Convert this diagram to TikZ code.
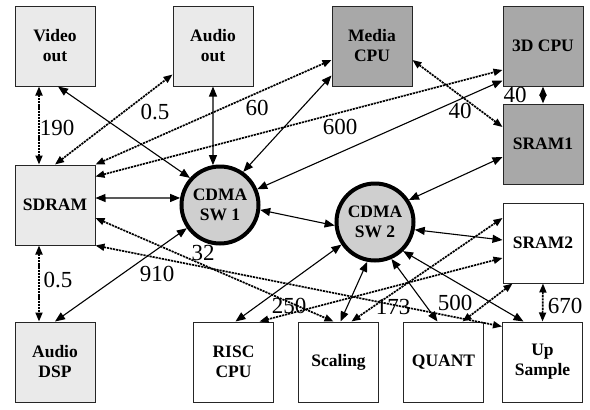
\documentclass[tikz,border=0pt]{standalone}
\usepackage{fontspec}
\setmainfont{Liberation Serif}
\usetikzlibrary{arrows.meta}
\definecolor{litegray}{RGB}{234,234,234}
\definecolor{darkgray2}{RGB}{168,168,168}
\definecolor{swgray}{RGB}{207,207,207}
\begin{document}
\begin{tikzpicture}[x=1pt,y=-1pt,
  box/.style={draw=black!85, line width=1pt, minimum width=80pt, minimum height=80pt,
    inner sep=0pt, align=center, font=\fontsize{17.5}{20}\selectfont\bfseries},
  litebox/.style={box, fill=litegray},
  darkbox/.style={box, fill=darkgray2},
  whitebox/.style={box, fill=white},
  swnode/.style={circle, draw=black, line width=4pt, fill=swgray, minimum size=77pt,
    inner sep=0pt, align=center, font=\fontsize{17.5}{20}\selectfont\bfseries},
  link/.style={line width=1.1pt, {Triangle[length=10pt,width=8pt]}-{Triangle[length=10pt,width=8pt]}},
  dlink/.style={line width=1.7pt, dash pattern=on 2.2pt off 0.9pt,
    {Triangle[length=9pt,width=7pt]}-{Triangle[length=9pt,width=7pt]}},
  lbl/.style={font=\fontsize{23}{23}\selectfont, inner sep=0pt}]
\useasboundingbox (0,0) rectangle (590,410);

% nodes
\node[litebox] (vout) at (55,46) {Video\\out};
\node[litebox] (aout) at (213,46) {Audio\\out};
\node[darkbox] (media) at (372,46) {Media\\CPU};
\node[darkbox] (cpu3d) at (543,46) {3D CPU};
\node[darkbox] (sram1) at (543,144) {SRAM1};
\node[litebox] (sdram) at (55,205) {SDRAM};
\node[litebox] (adsp) at (55,362) {Audio\\DSP};
\node[whitebox] (risc) at (233.5,362) {RISC\\CPU};
\node[whitebox] (scal) at (338.5,362) {Scaling};
\node[whitebox] (quant) at (443.5,362) {QUANT};
\node[whitebox] (ups) at (542.5,362) {Up\\Sample};
\node[whitebox] (sram2) at (543,243) {SRAM2};
\node[swnode] (sw1) at (220,205) {CDMA\\SW 1};
\node[swnode] (sw2) at (375,222) {CDMA\\SW 2};

% dashed connectors
\draw[dlink] ([xshift=-16pt]vout.south) -- ([xshift=-16pt]sdram.north);
\draw[dlink] ([xshift=-16pt]sdram.south) -- ([xshift=-16pt]adsp.north);
\draw[dlink] (sdram.north) -- ([yshift=12pt]aout.south west);
\draw[dlink] (sdram.north east) -- ([yshift=-14pt]media.west);
\draw[dlink] ([yshift=-12pt]sdram.north east) -- ([yshift=-24pt]cpu3d.west);
\draw[dlink] ([yshift=-14pt]media.east) -- ([yshift=17pt]sram1.west);
\draw[dlink] (cpu3d.south) -- (sram1.north);
\draw[dlink] ([yshift=-13pt]sdram.east) -- ([xshift=-5pt]scal.north);
\draw[dlink] (sdram.south east) -- ([yshift=-5pt]ups.north west);
\draw[dlink] ([yshift=25pt]sram2.west) -- ([xshift=13pt]scal.north);
\draw[dlink] ([yshift=-15pt]sram2.west) -- ([xshift=26pt]risc.north);
\draw[dlink] ([xshift=10pt]sram2.south west) -- ([xshift=19pt]quant.north);
\draw[dlink] (sram2.south) -- (ups.north);

% solid connectors
\draw[link] ([xshift=3pt]vout.south) -- (sw1.138);
\draw[link] (aout.south) -- (sw1.100);
\draw[link] ([yshift=11pt]media.south west) -- (sw1.55);
\draw[link] ([yshift=6pt]cpu3d.south west) -- (sw1.23);
\draw[link] ([yshift=7pt]sdram.east) -- (sw1.170);
\draw[link] (sw1.-7) -- (sw2.185);
\draw[link] (adsp.north) -- (sw1.215);
\draw[link] (sw2.33) -- ([yshift=-13pt]sram1.west);
\draw[link] (sw2.-11) -- ([yshift=3pt]sram2.west);
\draw[link] (sw2.214) -- ([xshift=2pt]risc.north);
\draw[link] (sw2.259) -- ([xshift=2pt]scal.north);
\draw[link] (sw2.294) -- ([xshift=-6pt]quant.north);
\draw[link] (sw2.314) -- ([xshift=-19pt]ups.north);

% labels
\node[lbl] (l190) at (57,128) {190};
\node[lbl] (l05a) at (155,112) {0.5};
\node[lbl] (l60) at (257,108) {60};
\node[lbl] (l600) at (340,127) {600};
\node[lbl] (l40a) at (515,95) {40};
\node[lbl] (l40b) at (460,111) {40};
\node[lbl] (l32) at (203,253) {32};
\node[lbl] (l910) at (157,274) {910};
\node[lbl] (l05b) at (58,280) {0.5};
\node[lbl] (l250) at (289,306) {250};
\node[lbl] (l173) at (393,307) {173};
\node[lbl] (l500) at (455,303) {500};
\node[lbl] (l670) at (565,306) {670};
\end{tikzpicture}
\end{document}
